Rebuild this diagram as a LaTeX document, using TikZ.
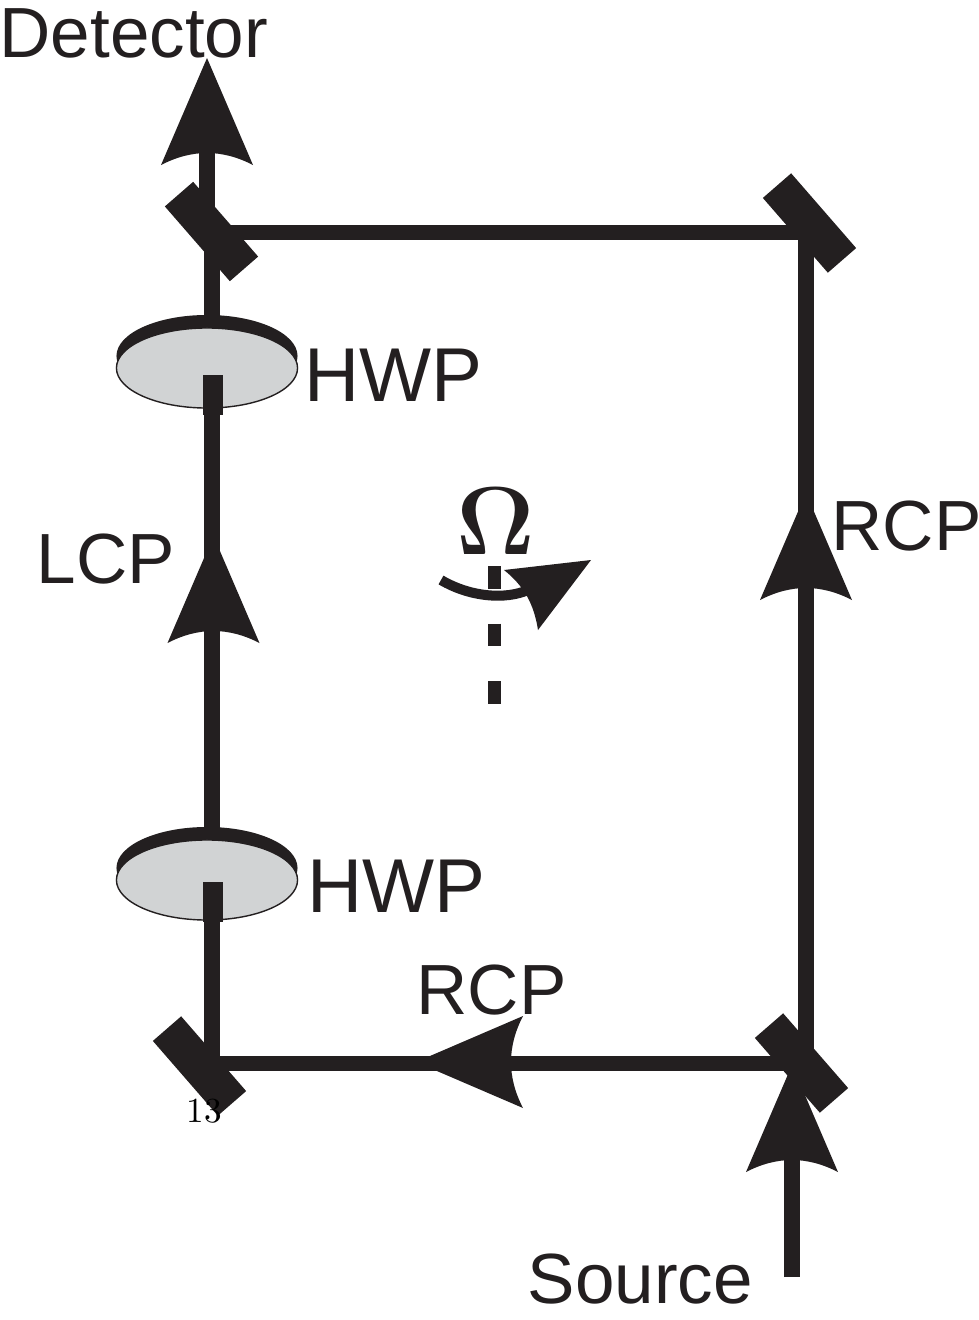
\documentclass[tikz,border=0pt]{standalone}
\usepackage{fix-cm}
\usepackage{fontspec}
\usetikzlibrary{shapes.geometric}
\newfontfamily\labelfont{Liberation Sans}
\definecolor{ink}{HTML}{231F20}
\definecolor{plate}{HTML}{D1D3D4}
\tikzset{
	beam/.style={draw=ink, line width=0.15cm},
	mirror/.style={rectangle, fill=ink, minimum width=0.99cm, minimum height=0.375cm, inner sep=0pt, rotate=-49},
	platetop/.style={ellipse, fill=ink, minimum width=1.81cm, minimum height=0.82cm, inner sep=0pt},
	platebody/.style={ellipse, draw=ink, line width=0.4pt, fill=plate, minimum width=1.81cm, minimum height=0.8cm, inner sep=0pt},
	platepin/.style={rectangle, fill=ink, minimum width=0.19cm, minimum height=0.4cm, inner sep=0pt},
	tag/.style={font=\labelfont\fontsize{20.2}{24}\selectfont, text=ink, anchor=base west, inner sep=0pt},
	bigtag/.style={tag, font=\labelfont\fontsize{21.7}{24}\selectfont},
	pics/beamhead/.style={code={
		\fill[ink] (0,0) -- (46,107) .. controls (15,91) and (-15,91) .. (-46,107) -- cycle;
	}}
}
\begin{document}
\begin{tikzpicture}[x=0.01cm, y=-0.01cm]
	\useasboundingbox (0,0) rectangle (979,1320);
	%corners of the loop
	\coordinate (cornerTL) at (212,232);
	\coordinate (cornerTR) at (806,232);
	\coordinate (cornerBR) at (806,1063);
	\coordinate (cornerBL) at (212,1063);
	\coordinate (outTop) at (207,232);
	\coordinate (outEnd) at (207,130);
	\coordinate (inTop) at (792,1130);
	\coordinate (inEnd) at (792,1277);
	
	%beams
	\draw[beam] (cornerTL) -- (cornerTR) -- (cornerBR) -- (cornerBL) -- (cornerTL);
	\draw[beam] (outTop) -- (outEnd);
	\draw[beam] (inEnd) -- (inTop);
	
	%mirrors
	\node (mirrorTL) at (211.5,231.5) [mirror]{};
	\node (mirrorTR) at (809.5,223) [mirror]{};
	\node (mirrorBL) at (199.5,1066) [mirror]{};
	\node (mirrorBR) at (801.5,1063) [mirror]{};
	
	%wave plates
	\foreach \y/\p/\n in {0/395/A, 512/902/B}{
		\node (back\n) at (207,356+\y) [platetop]{};
		\node (plate\n) at (207,368+\y) [platebody]{};
		\node (pin\n) at (213,\p) [platepin]{};
	}
	
	%arrow heads
	\pic at (207,58) {beamhead};
	\pic at (213.5,536) {beamhead};
	\pic at (806,493) {beamhead};
	\pic at (792,1065) {beamhead};
	\pic[rotate=90] at (416,1062) {beamhead};
	
	%rotation axis
	\coordinate (axisTop) at (494.5,566);
	\coordinate (axisEnd) at (494.5,704);
	\draw[draw=ink, line width=0.12cm, dash pattern=on 0.225cm off 0.35cm] (axisTop) -- (axisEnd);
	\coordinate (spinStart) at (441,580);
	\coordinate (spinEnd) at (528,590);
	\draw[draw=ink, line width=0.1cm] (spinStart) .. controls (470,597) and (505,600) .. (spinEnd);
	\fill[ink] (591,560) -- (504,570) .. controls (524,586) and (534,604) .. (538,630) -- cycle;
	\node (omega) at (495.5,521.5) [text=ink, inner sep=0pt]{\fontsize{27.5}{30}\usefont{OT1}{cmr}{bx}{n}\char10};
	
	%labels
	\node (detector) at (-1,57) [tag]{Detector};
	\node (hwpA) at (304,401) [bigtag]{HWP};
	\node (hwpB) at (307,912) [bigtag]{HWP};
	\node (lcp) at (36,583) [tag]{LCP};
	\node (rcpA) at (831,550) [tag]{RCP};
	\node (rcpB) at (416,1014) [tag]{RCP};
	\node (source) at (527,1303) [tag]{Source};
	\node (page) at (204,1111) [text=black, inner sep=0pt]{13};
\end{tikzpicture}
\end{document}
